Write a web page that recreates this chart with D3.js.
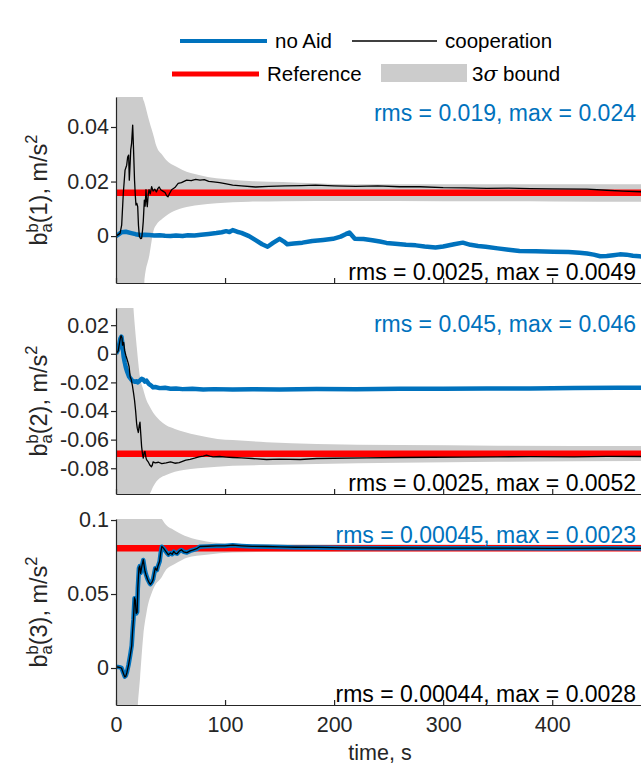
<!DOCTYPE html>
<html>
<head>
<meta charset="utf-8">
<script src="https://cdnjs.cloudflare.com/ajax/libs/d3/7.8.5/d3.min.js"></script>
<style>
  body { margin: 0; background: #fff; }
  svg text { font-family: "Liberation Sans", Arial, Helvetica, sans-serif; }
</style>
</head>
<body>
<svg id="chart" width="641" height="764"></svg>
<script>
/********************************************************
 ********************* Data *****************************
 ********************************************************/
// [time s, value m/s^2]
var coop1 = [[0,0],[3.7,0.001],[5.2,0.004],[6.7,0.0157],[8.3,0.0242],[9.8,0.026],[10.7,0.029],[11.6,0.0297],[12.2,0.0205],[13,0.027],[13.5,0.0316],[14.3,0.034],[15.3,0.0407],[16,0.0328],[17,0.0205],[17.7,0.015],[18.3,0.0114],[19.1,0.012],[19.9,0.0108],[20.6,0.004],[21.4,0],[22.5,-0.0009],[23.5,-0.0008],[24.3,0.002],[25,0.0054],[26,0.0132],[26.7,0.011],[27.5,0.017],[28.1,0.013],[28.7,0.0108],[29.5,0.015],[30.3,0.017],[31.4,0.0155],[32.7,0.0181],[34,0.0165],[35.5,0.0172],[37,0.0162],[38.5,0.0175],[39.6,0.018],[41,0.017],[43,0.0165],[45,0.016],[46.5,0.0148],[47.7,0.0144],[49,0.0155],[51,0.017],[54,0.0178],[57,0.0193],[60,0.0196],[64.8,0.0205],[69,0.0203],[73,0.0208],[77,0.0205],[81,0.0207],[85,0.0201],[89.3,0.0199],[95,0.0196],[100,0.0192],[107,0.0187],[115,0.0184],[128,0.018],[140,0.0182],[155,0.0184],[170,0.0185],[183,0.0187],[200,0.0184],[220,0.0182],[240,0.0184],[260,0.0181],[279,0.0181],[300,0.0178],[320,0.0177],[340,0.0175],[360,0.0176],[380,0.0174],[400,0.0173],[432,0.0172],[450,0.0168],[465,0.0165],[486,0.0162]];
var noAid1 = [[0,0],[3,0.0008],[5,0.0014],[9,0.0016],[14,0.0011],[18,0.0007],[22,0.0004],[26,0.0005],[30.6,0.0004],[35,0.0002],[40,0.0003],[45,0.0001],[50,0.0],[55,0.0002],[61,0.0],[66,0.0003],[72,0.0002],[78,0.0005],[85,0.0008],[92,0.0011],[97,0.0014],[101,0.0018],[104,0.0015],[107,0.0022],[111,0.0016],[115,0.0012],[122,0.0],[128,-0.0015],[134,-0.003],[139,-0.0039],[144,-0.0025],[150,-0.001],[154,-0.002],[157,-0.003],[163,-0.0027],[171,-0.0024],[180,-0.0018],[190,-0.0014],[199,-0.001],[206,-0.0002],[211,0.0008],[214,0.0013],[219,-0.001],[227,-0.0011],[235,-0.0015],[242,-0.002],[248,-0.0025],[256,-0.0028],[266,-0.0032],[275,-0.0034],[283,-0.0038],[293,-0.0042],[300,-0.0038],[310,-0.003],[318,-0.0024],[325,-0.0032],[332,-0.0036],[339,-0.0039],[350,-0.0045],[360,-0.005],[370,-0.0055],[385,-0.0056],[401,-0.0057],[415,-0.0058],[425,-0.0061],[432,-0.0064],[438,-0.0068],[444,-0.0074],[450,-0.0073],[456,-0.007],[462,-0.0067],[468,-0.0068],[474,-0.0072],[480,-0.0074],[486,-0.0076]];
// [time, lower 3sigma, upper 3sigma]
var band1 = [[0,-0.3,0.3],[15,-0.1,0.12],[22,-0.04,0.07],[24.5,-0.025,0.051],[26,-0.017,0.049],[30.6,-0.007,0.042],[35,0.0028,0.036],[36.7,0.004,0.0334],[43,0.0065,0.0295],[46,0.0075,0.0279],[55,0.0095,0.0255],[61,0.0103,0.0242],[76,0.0114,0.0224],[92,0.012,0.0212],[107,0.0124,0.0207],[122,0.0126,0.0202],[153,0.0128,0.0198],[214,0.0129,0.019],[300,0.0128,0.019],[400,0.0127,0.019],[486,0.0126,0.019]];
var ref1 = 0.0159;

var coop2 = [[0,0],[2,0.002],[4,0.011],[4.6,0.0127],[5.5,0.011],[6,0.006],[7,0.008],[8,0.002],[9,-0.001],[10,-0.0035],[11,-0.006],[12,-0.009],[13,-0.016],[14,-0.018],[15,-0.022],[16,-0.027],[17,-0.0325],[18,-0.04],[18.9,-0.0486],[19.5,-0.052],[20.5,-0.055],[21.3,-0.05],[22,-0.0478],[22.7,-0.056],[23.5,-0.065],[24.3,-0.07],[25,-0.0729],[25.8,-0.069],[26.6,-0.0683],[27.3,-0.072],[28,-0.074],[29.5,-0.0755],[31,-0.0777],[32.5,-0.079],[33.3,-0.0778],[34,-0.0756],[36,-0.0762],[39,-0.0758],[42,-0.0768],[46,-0.0763],[50,-0.0755],[54,-0.0765],[58,-0.076],[61,-0.0752],[64,-0.0744],[68,-0.0738],[72,-0.073],[76,-0.072],[80,-0.0715],[83,-0.0709],[86,-0.0716],[89,-0.072],[95,-0.0718],[101,-0.0722],[107,-0.0725],[115,-0.0728],[125,-0.0732],[138,-0.0739],[150,-0.0736],[169,-0.0739],[184,-0.0732],[200,-0.073],[230,-0.0727],[260,-0.0725],[290,-0.0723],[320,-0.0722],[350,-0.072],[380,-0.0719],[420,-0.072],[450,-0.0717],[486,-0.0718]];
var noAid2 = [[0,0],[2,0.003],[4,0.0106],[5,0.012],[6,0.006],[7,-0.002],[8,-0.006],[9,-0.0095],[10,-0.012],[12,-0.016],[15,-0.019],[17,-0.0195],[19,-0.0192],[20,-0.02],[22,-0.0186],[23.5,-0.0175],[25,-0.018],[26.5,-0.0195],[28,-0.0188],[30,-0.021],[32,-0.022],[34,-0.0235],[36,-0.0232],[40,-0.024],[45,-0.0238],[50,-0.0244],[55,-0.0242],[61,-0.0247],[70,-0.0245],[80,-0.0249],[90,-0.0247],[107,-0.025],[125,-0.0248],[150,-0.0249],[184,-0.0246],[220,-0.0247],[260,-0.0245],[300,-0.0245],[340,-0.0243],[380,-0.0242],[420,-0.024],[460,-0.0238],[486,-0.0237]];
var band2 = [[0,-0.3,0.3],[10,-0.2,0.12],[16,-0.14,0.032],[19,-0.13,0.005],[22,-0.12,-0.0163],[25,-0.11,-0.025],[28,-0.1,-0.0325],[31,-0.098,-0.037],[34,-0.093,-0.041],[37,-0.0893,-0.044],[40,-0.087,-0.0464],[46,-0.0847,-0.05],[54,-0.0825,-0.0525],[62,-0.0812,-0.0545],[75,-0.08,-0.057],[93,-0.0789,-0.0595],[107,-0.0782,-0.0603],[138,-0.0777,-0.0618],[184,-0.077,-0.0631],[260,-0.0762,-0.0638],[350,-0.0755,-0.0642],[486,-0.075,-0.0645]];
var ref2 = -0.0698;

var coop3 = [[0,0.0007],[3,0.0005],[5,0.0],[6.5,-0.003],[8,-0.006],[9,-0.0055],[10,-0.003],[11.5,0.002],[13,0.0084],[14.4,0.015],[15.2,0.025],[16,0.033],[17,0.0475],[17.7,0.046],[18.5,0.037],[19.4,0.0377],[20,0.054],[21,0.0676],[21.8,0.069],[22.5,0.064],[23.3,0.0672],[24,0.0698],[25,0.0732],[25.8,0.069],[26.6,0.0654],[27.5,0.063],[29,0.0598],[30.5,0.0575],[31.5,0.0565],[33,0.058],[34,0.0598],[35,0.064],[36,0.0676],[37.5,0.066],[38.5,0.069],[40,0.0721],[41,0.078],[42,0.0821],[43.5,0.081],[45,0.0795],[46.5,0.078],[48,0.0765],[50,0.0778],[51.5,0.0768],[53,0.0788],[54.5,0.0775],[56,0.0772],[58,0.079],[60,0.0799],[62,0.0785],[65,0.078],[68,0.0792],[71,0.0799],[74,0.0806],[77,0.0821],[84,0.0823],[92,0.0826],[100,0.0825],[107,0.083],[115,0.0826],[125,0.0822],[138,0.0821],[150,0.0818],[165,0.0816],[184,0.0815],[210,0.0812],[250,0.0811],[300,0.081],[350,0.081],[400,0.0809],[450,0.081],[486,0.0809]];
var noAid3 = [[0,0.0008],[3,0.0006],[5,0.0001],[6.5,-0.0028],[8,-0.0058],[9,-0.0052],[10,-0.0028],[11.5,0.0022],[13,0.0086],[14.4,0.0152],[15.2,0.0248],[16,0.0328],[17,0.0472],[17.7,0.0458],[18.5,0.0368],[19.4,0.0379],[20,0.0538],[21,0.0674],[21.8,0.0688],[22.5,0.0642],[23.3,0.067],[24,0.0696],[25,0.073],[25.8,0.0692],[26.6,0.0656],[27.5,0.0632],[29,0.06],[30.5,0.0577],[31.5,0.0567],[33,0.0582],[34,0.06],[35,0.0638],[36,0.0674],[37.5,0.0662],[38.5,0.0688],[40,0.0719],[41,0.0778],[42,0.0819],[43.5,0.0809],[45,0.0794],[46.5,0.0779],[48,0.0766],[50,0.0777],[51.5,0.0769],[53,0.0787],[54.5,0.0776],[56,0.0773],[58,0.0789],[60,0.0798],[62,0.0786],[65,0.0781],[68,0.0791],[71,0.0798],[74,0.0805],[77,0.082],[84,0.0822],[92,0.0825],[100,0.0824],[107,0.0829],[115,0.0825],[125,0.0821],[138,0.082],[150,0.0817],[165,0.0815],[184,0.0814],[210,0.0811],[250,0.081],[300,0.0809],[350,0.0809],[400,0.0808],[450,0.0809],[486,0.0808]];
var band3 = [[0,-0.3,0.3],[15,-0.1,0.2],[20,-0.025,0.18],[22,-0.0072,0.16],[25,0.0218,0.14],[28,0.0375,0.125],[34,0.0531,0.11],[42,0.0615,0.1007],[46,0.0665,0.0966],[53,0.07,0.0933],[61,0.0732,0.09],[65,0.0745,0.0888],[83,0.0765,0.0855],[107,0.078,0.084],[150,0.0785,0.0836],[250,0.0788,0.0834],[486,0.079,0.0833]];
var ref3 = 0.081;

var yTicks1 = [0, 0.02, 0.04];
var yTickLabels1 = ["0", "0.02", "0.04"];
var yTicks2 = [-0.08, -0.06, -0.04, -0.02, 0, 0.02];
var yTickLabels2 = ["-0.08", "-0.06", "-0.04", "-0.02", "0", "0.02"];
var yTicks3 = [0, 0.05, 0.1];
var yTickLabels3 = ["0", "0.05", "0.1"];
var xTicks = [0, 100, 200, 300, 400];
var xTickLabels = ["0", "100", "200", "300", "400"];

var rmsNoAid = ["rms = 0.019, max = 0.024", "rms = 0.045, max = 0.046", "rms = 0.00045, max = 0.0023"];
var rmsCoop = ["rms = 0.0025, max = 0.0049", "rms = 0.0025, max = 0.0052", "rms = 0.00044, max = 0.0028"];
var axisIndex = ["1", "2", "3"];

/********************************************************
 ********************* Layout ***************************
 ********************************************************/
var blue = "#0072BD", red = "#FF0000", grey = "#CCCCCC", axisColor = "#262626";
var left = 116, right = 646;
var panels = [
  { top: 97, bottom: 283, domain: [-0.0172, 0.051], coop: coop1, noAid: noAid1, band: band1, ref: ref1, ticks: yTicks1, labels: yTickLabels1 },
  { top: 308, bottom: 494, domain: [-0.098, 0.032], coop: coop2, noAid: noAid2, band: band2, ref: ref2, ticks: yTicks2, labels: yTickLabels2 },
  { top: 519, bottom: 705, domain: [-0.025, 0.1007], coop: coop3, noAid: noAid3, band: band3, ref: ref3, ticks: yTicks3, labels: yTickLabels3 }
];

var svg = d3.select("#chart");
var x = d3.scaleLinear().domain([0, 486]).range([left, right]);

function drawPanel(p, i) {
  var y = d3.scaleLinear().domain(p.domain).range([p.bottom, p.top]);
  var clipId = "clip" + i;
  svg.append("clipPath").attr("id", clipId)
    .append("rect")
    .attr("x", left).attr("y", p.top)
    .attr("width", right - left).attr("height", p.bottom - p.top);

  var g = svg.append("g").attr("clip-path", "url(#" + clipId + ")");

  // 3 sigma bound
  var area = d3.area()
    .x(function(d) { return x(d[0]); })
    .y0(function(d) { return y(d[1]); })
    .y1(function(d) { return y(d[2]); })
    .curve(d3.curveMonotoneX);
  g.append("path").datum(p.band).attr("d", area).attr("fill", grey);

  // reference
  g.append("line")
    .attr("x1", x(0)).attr("x2", x(486))
    .attr("y1", y(p.ref)).attr("y2", y(p.ref))
    .attr("stroke", red).attr("stroke-width", 6.5);

  var line = d3.line()
    .x(function(d) { return x(d[0]); })
    .y(function(d) { return y(d[1]); });

  g.append("path").datum(p.noAid).attr("d", line)
    .attr("fill", "none").attr("stroke", blue)
    .attr("stroke-width", 4.5).attr("stroke-linejoin", "round");

  g.append("path").datum(p.coop).attr("d", line)
    .attr("fill", "none").attr("stroke", "#000")
    .attr("stroke-width", 1.3).attr("stroke-linejoin", "round");

  // axes
  var yAxis = svg.append("g")
    .attr("transform", "translate(" + left + ",0)")
    .call(d3.axisLeft(y).tickValues(p.ticks).tickSize(5).tickSizeOuter(0).tickPadding(2)
      .tickFormat(function(d, k) { return p.labels[k]; }));
  var xAxis = svg.append("g")
    .attr("transform", "translate(0," + p.bottom + ")")
    .call(d3.axisBottom(x).tickValues(xTicks).tickSize(-5).tickSizeOuter(0).tickPadding(12)
      .tickFormat(function(d, k) { return i == 2 ? xTickLabels[k] : ""; }));
  [yAxis, xAxis].forEach(function(a) {
    a.select(".domain").attr("stroke", axisColor).attr("stroke-width", 1.2);
    a.selectAll(".tick line").attr("stroke", axisColor).attr("stroke-width", 1.2);
    a.selectAll(".tick text").attr("fill", axisColor)
      .style("font-size", "21.5px").style("font-family", "Liberation Sans, Arial, sans-serif");
  });

  // rms texts
  svg.append("text")
    .attr("x", 636).attr("y", p.top + 24)
    .attr("text-anchor", "end").attr("fill", blue)
    .style("font-size", "23px")
    .text(rmsNoAid[i]);
  svg.append("text")
    .attr("x", 636).attr("y", p.bottom - 3)
    .attr("text-anchor", "end").attr("fill", "#000")
    .style("font-size", "23px")
    .text(rmsCoop[i]);

  // y label b_a^b(i), m/s^2
  var lab = svg.append("text")
    .attr("transform", "translate(47," + (p.top + p.bottom) / 2 + ") rotate(-90)")
    .attr("text-anchor", "middle").attr("fill", axisColor)
    .style("font-size", "23.5px");
  lab.append("tspan").text("b");
  lab.append("tspan").attr("dy", 5).style("font-size", "16.5px").text("a");
  lab.append("tspan").attr("dx", -9.2).attr("dy", -14).style("font-size", "16.5px").text("b");
  lab.append("tspan").attr("dy", 9).text("(" + axisIndex[i] + "), m/s");
  lab.append("tspan").attr("dy", -10).style("font-size", "16.5px").text("2");
}

panels.forEach(drawPanel);

// x label
svg.append("text")
  .attr("x", 380).attr("y", 760)
  .attr("text-anchor", "middle").attr("fill", axisColor)
  .style("font-size", "21.5px")
  .text("time, s");

/********************************************************
 ********************* Legend ***************************
 ********************************************************/
var leg = svg.append("g");
leg.append("line").attr("x1", 180).attr("x2", 267).attr("y1", 41).attr("y2", 41)
  .attr("stroke", blue).attr("stroke-width", 4);
leg.append("text").attr("x", 275).attr("y", 48).style("font-size", "20.5px").text("no Aid");
leg.append("line").attr("x1", 352).attr("x2", 437).attr("y1", 41).attr("y2", 41)
  .attr("stroke", "#000").attr("stroke-width", 1.3);
leg.append("text").attr("x", 445).attr("y", 48).style("font-size", "20.5px").text("cooperation");
leg.append("line").attr("x1", 172).attr("x2", 259).attr("y1", 74).attr("y2", 74)
  .attr("stroke", red).attr("stroke-width", 5);
leg.append("text").attr("x", 267).attr("y", 81).style("font-size", "20.5px").text("Reference");
leg.append("rect").attr("x", 381).attr("y", 64).attr("width", 86).attr("height", 18)
  .attr("fill", grey);
var sb = leg.append("text").attr("x", 472).attr("y", 81).style("font-size", "20.5px");
sb.append("tspan").text("3");
sb.append("tspan").style("font-style", "italic").style("font-family", "DejaVu Serif, serif").text("\u03C3");
sb.append("tspan").text(" bound");
</script>
</body>
</html>
